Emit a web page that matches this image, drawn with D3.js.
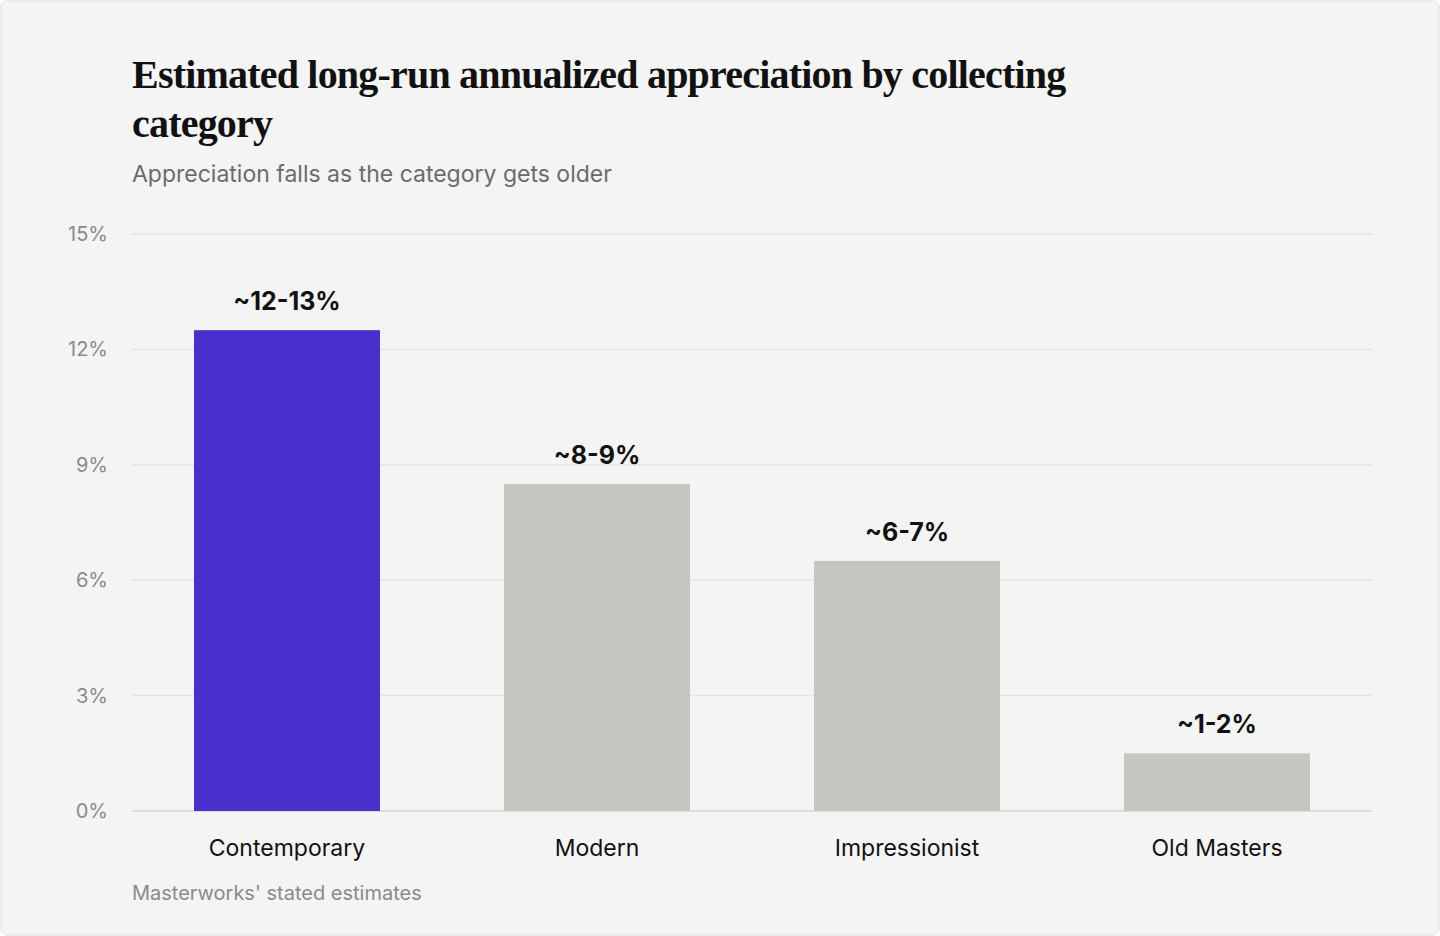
<!DOCTYPE html>
<html>
<head>
<meta charset="utf-8">
<script src="https://cdn.jsdelivr.net/npm/d3@7"></script>
<style>
  html, body { margin: 0; padding: 0; background: #ffffff; }
  svg { display: block; }
</style>
</head>
<body>
<script>
  const categories = ['Contemporary', 'Modern', 'Impressionist', 'Old Masters'];
  const values = [12.5, 8.5, 6.5, 1.5];
  const labels = ['~12-13%', '~8-9%', '~6-7%', '~1-2%'];
  const ticks = [0, 3, 6, 9, 12, 15];

  const W = 1440, H = 936;
  const svg = d3.select('body').append('svg').attr('width', W).attr('height', H);

  svg.append('rect')
     .attr('x', 1).attr('y', 1).attr('width', W - 2).attr('height', H - 2)
     .attr('rx', 6)
     .attr('fill', '#f4f4f4').attr('stroke', '#dcdcdc');

  const title = svg.append('text')
     .attr('font-family', '"Liberation Serif", "DejaVu Serif", serif')
     .attr('font-weight', 700).attr('font-size', 40)
     .attr('letter-spacing', -0.8)
     .attr('fill', '#111');
  title.append('tspan').attr('x', 132).attr('y', 88)
       .text('Estimated long-run annualized appreciation by collecting');
  title.append('tspan').attr('x', 132).attr('y', 137).text('category');

  svg.append('text')
     .attr('x', 132).attr('y', 182)
     .attr('font-family', 'Inter, "Noto Sans", sans-serif')
     .attr('font-size', 23).attr('fill', '#6b6b6b')
     .text('Appreciation falls as the category gets older');

  const x = d3.scaleBand().domain(categories).range([132, 1372])
              .paddingInner(0.4).paddingOuter(0.2);
  const y = d3.scaleLinear().domain([0, 15]).range([811, 234]);

  // gridlines
  svg.append('g').selectAll('line').data(ticks).join('line')
     .attr('x1', 132).attr('x2', 1372)
     .attr('y1', d => y(d)).attr('y2', d => y(d))
     .attr('stroke', d => d === 0 ? '#d4d4d4' : '#e4e4e4').attr('stroke-width', 1.5);

  svg.append('g').selectAll('text').data(ticks).join('text')
     .attr('x', 108).attr('y', d => y(d) + 7)
     .attr('text-anchor', 'end')
     .attr('font-family', 'Inter, "Noto Sans", sans-serif')
     .attr('font-size', 20).attr('fill', '#8a8a8a')
     .text(d => d + '%');

  const bars = svg.append('g').selectAll('g').data(categories).join('g');

  bars.append('rect')
      .attr('x', d => x(d)).attr('width', x.bandwidth())
      .attr('y', (d, i) => y(values[i]))
      .attr('height', (d, i) => y(0) - y(values[i]))
      .attr('fill', (d, i) => i === 0 ? '#4a2fcc' : '#c6c5c0');

  bars.append('text')
      .attr('x', d => x(d) + x.bandwidth() / 2)
      .attr('y', (d, i) => y(values[i]) - 20)
      .attr('text-anchor', 'middle')
      .attr('font-family', 'Inter, "Noto Sans", sans-serif')
      .attr('font-weight', 700).attr('font-size', 25).attr('fill', '#111')
      .text((d, i) => labels[i]);

  bars.append('text')
      .attr('x', d => x(d) + x.bandwidth() / 2)
      .attr('y', 856)
      .attr('text-anchor', 'middle')
      .attr('font-family', 'Inter, "Noto Sans", sans-serif')
      .attr('font-size', 23).attr('fill', '#111')
      .text(d => d);

  svg.append('text')
     .attr('x', 132).attr('y', 900)
     .attr('font-family', 'Inter, "Noto Sans", sans-serif')
     .attr('font-size', 20).attr('fill', '#8a8a8a')
     .text("Masterworks' stated estimates");
</script>
</body>
</html>
